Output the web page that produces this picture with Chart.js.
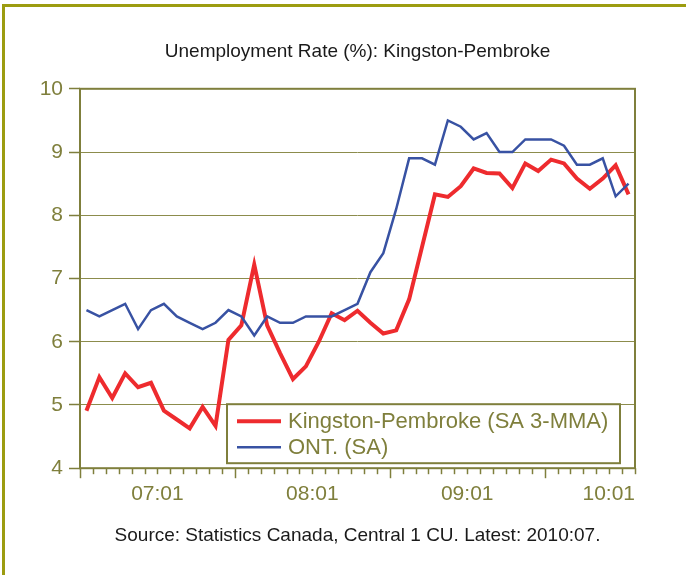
<!DOCTYPE html>
<html>
<head>
<meta charset="utf-8">
<title>Unemployment Rate (%): Kingston-Pembroke</title>
<script src="https://cdn.jsdelivr.net/npm/chart.js@4.4.1/dist/chart.umd.min.js"></script>
<style>
    html, body { margin: 0; padding: 0; background: #ffffff; }
    #wrap { position: relative; width: 686px; height: 575px; overflow: hidden; }
    #frame {
        position: absolute; left: 2px; top: 4px; width: 720px; height: 620px;
        border-top: 3px solid #9c9c10; border-left: 3px solid #9c9c10;
    }
    #chart { position: absolute; left: 0; top: 0; }
</style>
</head>
<body>
<div id="wrap">
    <div id="frame"></div>
    <canvas id="chart" width="686" height="575"></canvas>
</div>
<script>
// Monthly categories, 2007:01 .. 2010:07
const months = [
    '07:01', '07:02', '07:03', '07:04', '07:05', '07:06', '07:07', '07:08', '07:09', '07:10', '07:11', '07:12',
    '08:01', '08:02', '08:03', '08:04', '08:05', '08:06', '08:07', '08:08', '08:09', '08:10', '08:11', '08:12',
    '09:01', '09:02', '09:03', '09:04', '09:05', '09:06', '09:07', '09:08', '09:09', '09:10', '09:11', '09:12',
    '10:01', '10:02', '10:03', '10:04', '10:05', '10:06', '10:07'
];

// Kingston-Pembroke (SA 3-MMA)
const kingston = [
    4.91, 5.44, 5.11, 5.50, 5.28, 5.35, 4.91, 4.77, 4.63, 4.97, 4.67, 6.03,
    6.26, 7.22, 6.26, 5.82, 5.41, 5.61, 6.00, 6.45, 6.34, 6.49, 6.30, 6.13,
    6.18, 6.67, 7.50, 8.33, 8.29, 8.46, 8.74, 8.67, 8.66, 8.43, 8.82, 8.70,
    8.88, 8.82, 8.58, 8.42, 8.58, 8.79, 8.33
];

// ONT. (SA)
const ontario = [
    6.5, 6.4, 6.5, 6.6, 6.2, 6.5, 6.6, 6.4, 6.3, 6.2, 6.3, 6.5,
    6.4, 6.1, 6.4, 6.3, 6.3, 6.4, 6.4, 6.4, 6.5, 6.6, 7.1, 7.4,
    8.1, 8.9, 8.9, 8.8, 9.5, 9.4, 9.2, 9.3, 9.0, 9.0, 9.2, 9.2,
    9.2, 9.1, 8.8, 8.8, 8.9, 8.3, 8.5
];

// Only the first month of each year gets a label on the x axis
const xTickLabels = ['07:01', '08:01', '09:01', '10:01'];

const seriesNames = ['Kingston-Pembroke (SA 3-MMA)', 'ONT. (SA)'];
const seriesColors = ['#ee2b2e', '#3852a3'];

const OLIVE = '#7f7f3c';
const FONT = "'Liberation Sans', Arial, sans-serif";

// Plot frame, x axis ticks/labels and the boxed legend
const excelLook = {
    id: 'excelLook',
    beforeDatasetsDraw(chart) {
        const { ctx, chartArea: a } = chart;
        ctx.save();
        ctx.strokeStyle = OLIVE;
        ctx.lineWidth = 2;
        ctx.strokeRect(a.left, a.top, a.right - a.left, a.bottom - a.top);
        ctx.restore();
    },
    afterDatasetsDraw(chart) {
        const { ctx, chartArea: a } = chart;
        const xs = chart.scales.x;
        const n = months.length;
        const step = xs.getPixelForValue(1) - xs.getPixelForValue(0);

        ctx.save();
        // tick marks between the months, longer ones at each new year
        ctx.strokeStyle = OLIVE;
        ctx.lineWidth = 1.5;
        for (let i = 0; i <= n; i++) {
            const x = Math.round(i < n ? xs.getPixelForValue(i) - step / 2 : xs.getPixelForValue(n - 1) + step / 2) + 0.5;
            const major = i < n && xTickLabels.includes(months[i]);
            ctx.beginPath();
            ctx.moveTo(x, a.bottom);
            ctx.lineTo(x, a.bottom + (major ? 10 : 6));
            ctx.stroke();
        }

        // year labels centred on their 12-month block, kept inside the plot
        ctx.fillStyle = OLIVE;
        ctx.font = '21px ' + FONT;
        ctx.textAlign = 'center';
        ctx.textBaseline = 'middle';
        xTickLabels.forEach(lbl => {
            const i = months.indexOf(lbl);
            const w = ctx.measureText(lbl).width;
            let cx = xs.getPixelForValue(i) - step / 2 + 6 * step;
            cx = Math.min(cx, a.right - w / 2);
            ctx.fillText(lbl, cx, a.bottom + 26);
        });

        // legend box
        const box = { left: a.left + 147, top: a.bottom - 64, width: 393, height: 59 };
        ctx.fillStyle = '#ffffff';
        ctx.fillRect(box.left, box.top, box.width, box.height);
        ctx.strokeStyle = OLIVE;
        ctx.lineWidth = 2;
        ctx.strokeRect(box.left, box.top, box.width, box.height);

        ctx.font = '22px ' + FONT;
        ctx.textAlign = 'left';
        chart.data.datasets.forEach((ds, k) => {
            const y = box.top + 17 + k * 26;
            ctx.strokeStyle = ds.borderColor;
            ctx.lineWidth = ds.borderWidth;
            ctx.beginPath();
            ctx.moveTo(box.left + 10, y);
            ctx.lineTo(box.left + 54, y);
            ctx.stroke();
            ctx.fillStyle = OLIVE;
            ctx.fillText(ds.label, box.left + 61, y + 1);
        });
        ctx.restore();
    }
};

new Chart(document.getElementById('chart'), {
    type: 'line',
    data: {
        labels: months,
        datasets: [
            {
                label: seriesNames[0],
                data: kingston,
                borderColor: seriesColors[0],
                borderWidth: 4,
                pointRadius: 0,
                tension: 0,
                order: 1
            },
            {
                label: seriesNames[1],
                data: ontario,
                borderColor: seriesColors[1],
                borderWidth: 2.5,
                pointRadius: 0,
                tension: 0,
                order: 0
            }
        ]
    },
    options: {
        responsive: false,
        animation: false,
        events: [],
        layout: { padding: { left: 0, top: 0, right: 51, bottom: 0 } },
        plugins: {
            legend: { display: false },
            tooltip: { enabled: false },
            title: {
                display: true,
                text: 'Unemployment Rate (%): Kingston-Pembroke',
                fullSize: false,
                color: '#1a1a1a',
                font: { family: FONT, size: 19, weight: 'normal', lineHeight: 1.2 },
                padding: { top: 40, bottom: 26 }
            },
            subtitle: {
                display: true,
                position: 'bottom',
                text: 'Source: Statistics Canada, Central 1 CU. Latest: 2010:07.',
                fullSize: false,
                color: '#1a1a1a',
                font: { family: FONT, size: 19, weight: 'normal', lineHeight: 1.2 },
                padding: { top: 10, bottom: 28 }
            }
        },
        scales: {
            x: {
                type: 'category',
                offset: true,
                grid: { display: false, offset: true },
                border: { display: false },
                ticks: { display: false },
                afterFit(scale) { scale.height = 46; }
            },
            y: {
                min: 4,
                max: 10,
                ticks: {
                    stepSize: 1,
                    color: OLIVE,
                    padding: 6,
                    font: { family: FONT, size: 21 }
                },
                grid: {
                    color: '#8c8c4c',
                    lineWidth: 1,
                    borderDash: [5, 2],
                    tickLength: 11,
                    tickColor: OLIVE,
                    tickWidth: 1.5,
                    tickBorderDash: []
                },
                border: { display: false },
                afterFit(scale) { scale.width = 80; }
            }
        }
    },
    plugins: [excelLook]
});
</script>
</body>
</html>
